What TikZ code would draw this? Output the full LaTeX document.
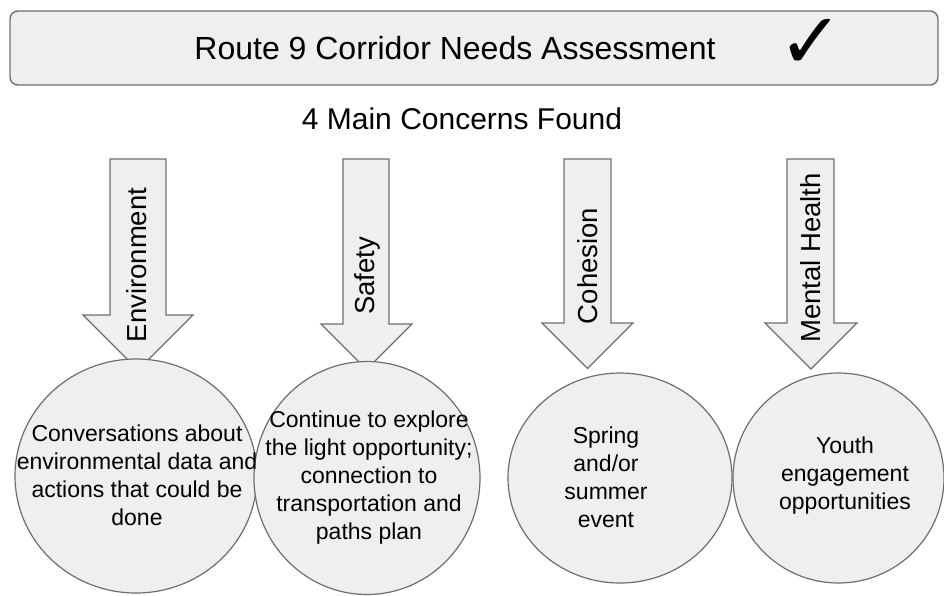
\documentclass[tikz,border=0pt]{standalone}
\usepackage{fontspec}
\setmainfont{Liberation Sans}
\newfontfamily\tickfont{DejaVu Sans}
\usepackage{tikz}
\usetikzlibrary{shapes.geometric}
\definecolor{shade}{HTML}{EFEFEF}
\definecolor{rim}{HTML}{6E6E6E}

\begin{document}
\begin{tikzpicture}[x=1pt, y=-1pt,
	panel/.style={draw=rim, fill=shade, line width=1.4pt, rounded corners=8pt},
	concern/.style={draw=rim, fill=shade, line width=1.2pt},
	bubble/.style={ellipse, draw=rim, fill=shade, line width=1.2pt, inner sep=0pt},
	tag/.style={rotate=90, inner sep=0pt, font=\fontsize{27.5}{30}\selectfont},
	blurb/.style={align=center, inner sep=0pt, font=\fontsize{23}{28}\selectfont}]
	\useasboundingbox (0,0) rectangle (944,595);
	
	% header
	\node[panel, minimum width=928pt, minimum height=74pt] (header) at (474,48) {};
	\node[font=\fontsize{32}{36}\selectfont] (headtext) at (455,48) {Route 9 Corridor Needs Assessment};
	\node[font=\tickfont\fontsize{78}{80}\selectfont, inner sep=0pt] (tick) at (811,44) {✓};
	\node[font=\fontsize{30}{34}\selectfont] (found) at (462,119) {4 Main Concerns Found};
	
	% arrows
	\draw[concern] (110,159) -- (166,159) -- (166,315) -- (193,315) -- (138,370) -- (83,315) -- (110,315) -- cycle;
	\draw[concern] (343,159) -- (389,159) -- (389,324) -- (412,324) -- (366.5,369.5) -- (321,324) -- (343,324) -- cycle;
	\draw[concern] (564,159) -- (611,159) -- (611,323) -- (633,323) -- (587.5,368.5) -- (542,323) -- (564,323) -- cycle;
	\draw[concern] (787,159) -- (834,159) -- (834,323) -- (857,323) -- (811,369) -- (765,323) -- (787,323) -- cycle;
	
	\node[tag] (envlab) at (137,265) {Environment};
	\node[tag] (safetylab) at (367,276) {Safety};
	\node[tag] (cohesionlab) at (588,266) {Cohesion};
	\node[tag] (mentallab) at (811,258) {Mental Health};
	
	% circles
	\node[bubble, minimum width=242pt, minimum height=234pt] (envc) at (136,476) {};
	\node[bubble, minimum width=226pt, minimum height=233pt] (safetyc) at (367,478) {};
	\node[bubble, minimum width=224pt, minimum height=210pt] (cohesionc) at (620,478) {};
	\node[bubble, minimum width=211pt, minimum height=210pt] (mentalc) at (838.5,478) {};
	
	\node[blurb] (envt) at (137,475) {Conversations about\\environmental data and\\actions that could be\\done};
	\node[blurb] (safetyt) at (369,478) {Continue to explore\\the light opportunity;\\connection to\\transportation and\\paths plan};
	\node[blurb] (cohesiont) at (606,477) {Spring\\and/or\\summer\\event};
	\node[blurb] (mentalt) at (845,476) {Youth\\engagement\\opportunities};
\end{tikzpicture}
\end{document}
